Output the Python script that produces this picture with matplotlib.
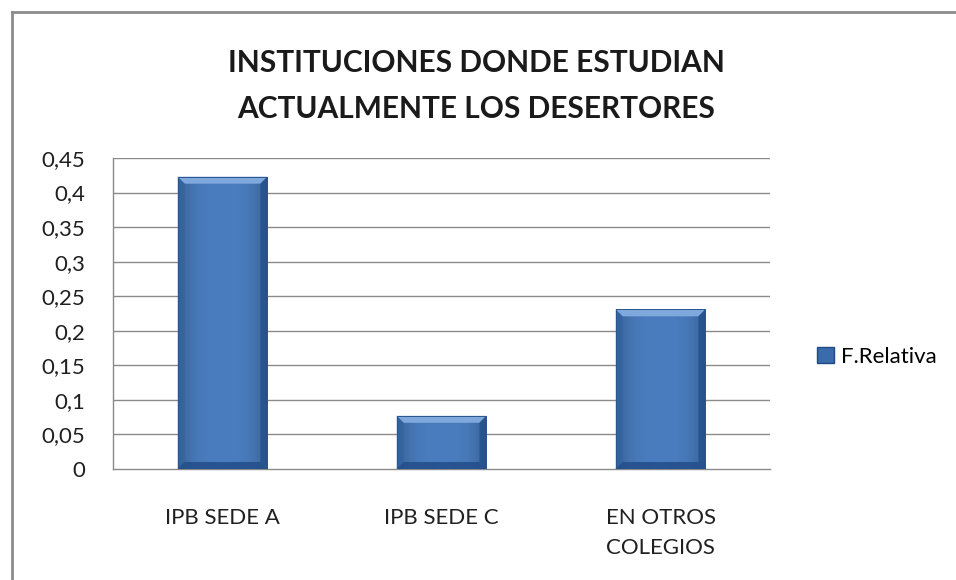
import numpy as np
import matplotlib.pyplot as plt
from matplotlib.patches import Rectangle, Polygon
from matplotlib.lines import Line2D

plt.rcParams['font.family'] = ['Lato', 'DejaVu Sans']

categories = ['IPB SEDE A', 'IPB SEDE C', 'EN OTROS\nCOLEGIOS']
values = [0.423, 0.077, 0.231]
yticks = [0, 0.05, 0.1, 0.15, 0.2, 0.25, 0.3, 0.35, 0.4, 0.45]
ytick_labels = ['0', '0,05', '0,1', '0,15', '0,2', '0,25', '0,3', '0,35', '0,4', '0,45']
series_name = 'F.Relativa'
title = 'INSTITUCIONES DONDE ESTUDIAN\nACTUALMENTE LOS DESERTORES'

W, H, DPI = 956, 580, 100
fig = plt.figure(figsize=(W / DPI, H / DPI), dpi=DPI)
ax = fig.add_axes([113 / W, 1 - 469 / H, (770 - 113) / W, (469 - 158) / H])

bar_w = 0.41
x = np.arange(len(categories))
ax.set_xlim(-0.5, len(categories) - 0.5)
ax.set_ylim(0, 0.45)

for t in yticks[1:]:
    ax.axhline(t, color='#8a8a8a', lw=1.0, zorder=1)

# horizontal gradient: darker at the sides
g = np.linspace(-1, 1, 200)
shade = 1 - 0.25 * np.abs(g) ** 3
base = np.array([0.29, 0.49, 0.75])
grad = np.clip(base[None, :] * shade[:, None], 0, 1)[None, :, :]

# pixel -> data size
px_x = 3.0 / 657
px_y = 0.45 / 311
bev = 7

for xi, v in zip(x, values):
    x0, x1 = xi - bar_w / 2, xi + bar_w / 2
    rect = Rectangle((x0, 0), bar_w, v, facecolor='#3f72b0', edgecolor='none', zorder=2)
    ax.add_patch(rect)
    im = ax.imshow(grad, extent=(x0, x1, 0, v), aspect='auto', zorder=3, interpolation='bilinear')
    im.set_clip_path(rect)
    dx, dy = bev * px_x, bev * px_y
    # top bevel
    ax.add_patch(Polygon([(x0, v), (x1, v), (x1 - dx, v - dy), (x0 + dx, v - dy)],
                         facecolor='#7fa9dc', edgecolor='none', zorder=4))
    # left / right bevels
    ax.add_patch(Polygon([(x0, v), (x0 + dx, v - dy), (x0 + dx, dy), (x0, 0)],
                         facecolor='#2f62a3', edgecolor='none', zorder=4, alpha=0.55))
    ax.add_patch(Polygon([(x1, v), (x1 - dx, v - dy), (x1 - dx, dy), (x1, 0)],
                         facecolor='#1f4c8a', edgecolor='none', zorder=4, alpha=0.7))
    # bottom bevel
    ax.add_patch(Polygon([(x0, 0), (x1, 0), (x1 - dx, dy), (x0 + dx, dy)],
                         facecolor='#224e8a', edgecolor='none', zorder=4, alpha=0.85))
    ax.add_patch(Rectangle((x0, 0), bar_w, v, facecolor='none', edgecolor='#2a558f', lw=0.7, zorder=5))

ax.set_xticks(x)
ax.set_xticklabels(categories, fontsize=16, color='#202020', linespacing=1.65, va='top')
ax.set_yticks(yticks)
ax.set_yticklabels(ytick_labels, fontsize=16, color='#202020')
ax.tick_params(axis='both', length=0)
ax.tick_params(axis='x', pad=28)
ax.tick_params(axis='y', pad=20)
for s in ['top', 'right']:
    ax.spines[s].set_visible(False)
for s in ['left', 'bottom']:
    ax.spines[s].set_color('#8a8a8a')
    ax.spines[s].set_linewidth(1.0)

fig.text(476 / W, 1 - 86 / H, title, ha='center', va='center', fontsize=21.5,
         fontweight='bold', color='#1a1a1a', linespacing=1.75)

handle = Rectangle((0, 0), 1, 1, facecolor='#3a6cab', edgecolor='#1f4a85')
fig.legend([handle], [series_name], loc='center left', bbox_to_anchor=(797 / W, 1 - 357 / H),
           frameon=False, fontsize=16, handlelength=0.75, handleheight=0.75, handletextpad=0.35)

# outer border (top and left only visible)
fig.add_artist(Line2D([11.5 / W, 11.5 / W], [0, 1 - 12 / H], transform=fig.transFigure,
                      color='#8c8c8c', lw=2))
fig.add_artist(Line2D([11.5 / W, 1], [1 - 12 / H, 1 - 12 / H], transform=fig.transFigure,
                      color='#8c8c8c', lw=2))

fig.savefig('out.png', dpi=DPI)
